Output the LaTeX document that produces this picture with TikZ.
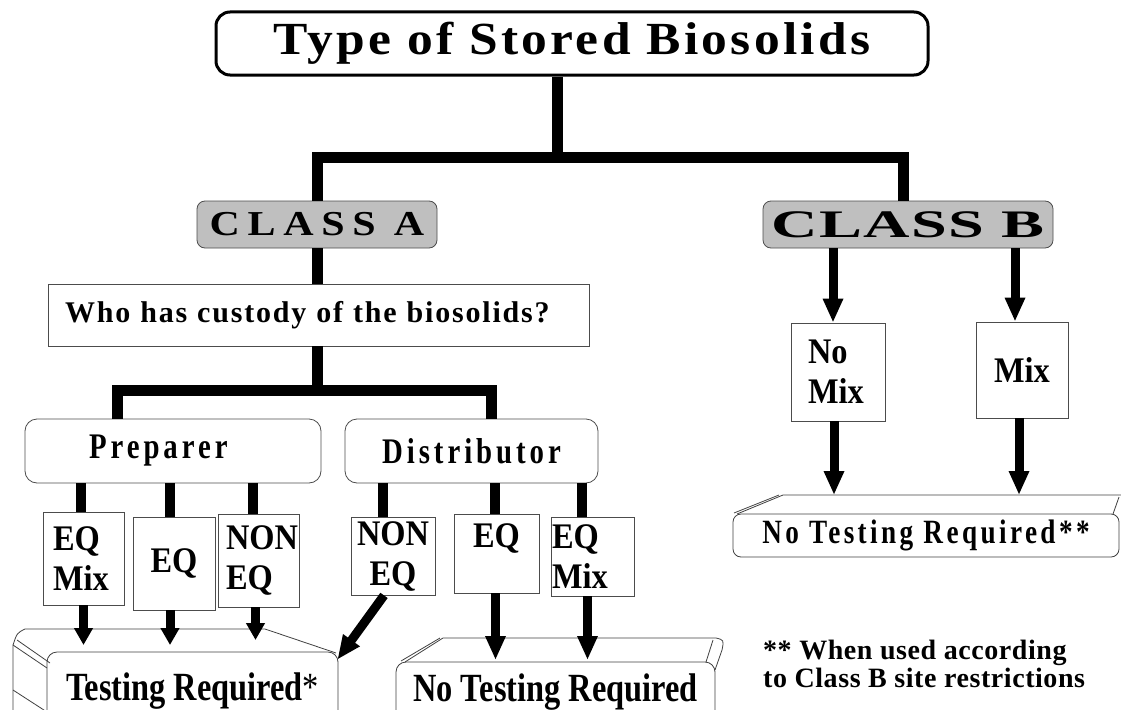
\documentclass[tikz,border=0pt]{standalone}
\usepackage{fontspec}
\setmainfont{Liberation Serif}
\usetikzlibrary{arrows.meta}

% fonts for the chart
\newcommand{\titlefont}{\bfseries\fontsize{46}{50}\selectfont\addfontfeatures{FakeStretch=1.12,LetterSpace=7}}
\newcommand{\classAfont}{\bfseries\fontsize{35}{40}\selectfont\addfontfeatures{FakeStretch=1.2,LetterSpace=22}}
\newcommand{\classBfont}{\bfseries\fontsize{39}{44}\selectfont\addfontfeatures{FakeStretch=1.65,LetterSpace=3}}
\newcommand{\askfont}{\bfseries\fontsize{30}{34}\selectfont\addfontfeatures{LetterSpace=6}}
\newcommand{\whofont}{\bfseries\fontsize{36}{40}\selectfont\addfontfeatures{FakeStretch=0.8,LetterSpace=11}}
\newcommand{\boxfont}{\bfseries\fontsize{36}{40}\selectfont\addfontfeatures{FakeStretch=0.9}}
\newcommand{\resultfont}{\bfseries\fontsize{40}{44}\selectfont\addfontfeatures{FakeStretch=0.81}}
\newcommand{\resultBfont}{\bfseries\fontsize{34}{38}\selectfont\addfontfeatures{FakeStretch=0.8,LetterSpace=10}}
\newcommand{\notefont}{\bfseries\fontsize{28}{28}\selectfont\addfontfeatures{LetterSpace=2}}

\tikzset{
  titlebox/.style={draw=black, line width=3pt, rounded corners=14pt, inner sep=0pt,
    minimum width=712pt, minimum height=63pt, font=\titlefont},
  classbox/.style={draw=black!70, line width=0.8pt, fill=black!25, rounded corners=8pt,
    inner sep=0pt, minimum height=47pt},
  askbox/.style={draw=black!70, line width=0.8pt, inner sep=0pt, font=\askfont},
  whobox/.style={draw=black!70, line width=0.8pt, rounded corners=12pt, inner sep=0pt,
    minimum height=64pt, font=\whofont},
  kindbox/.style={draw=black!70, line width=0.8pt, inner sep=0pt, font=\boxfont},
  slab/.style={draw=black!75, line width=0.8pt},
  slabface/.style={slab, fill=white, rounded corners=10pt, inner sep=0pt},
  bar/.style={line width=11pt},
  stub/.style={line width=10pt},
  arr/.style={line width=9pt, -{Triangle[length=24pt, width=19pt]}},
  arr short/.style={line width=9pt, -{Triangle[length=17pt, width=18pt]}},
}

\begin{document}
\begin{tikzpicture}[x=1pt,y=-1pt]
\useasboundingbox (0,0) rectangle (1121,709);
\clip (0,0) rectangle (1121,709);
% nodes
\node[titlebox] (type) at (572,43.5) {Type of Stored Biosolids};
\node[classbox, minimum width=240pt, font=\classAfont] (classA) at (317,224.5) {CLASS A};
\node[classbox, minimum width=290pt, font=\classBfont] (classB) at (908,224.5) {CLASS B};
\node[askbox, minimum width=541pt, minimum height=62pt, text width=507pt, align=left] (custody) at (318.5,315) {Who has custody of the biosolids?};
\node[whobox, minimum width=296pt, text width=168pt, align=left] (prep) at (173,451) {Preparer};
\node[whobox, minimum width=253pt] (dist) at (471.5,451) {Distributor};
    \node[kindbox, minimum width=81pt, minimum height=93pt, text width=61pt, align=left] (pEQmix) at (83.5,558.5) {EQ\\Mix};
    \node[kindbox, minimum width=82pt, minimum height=93pt] (pEQ) at (174,563.5) {EQ};
    \node[kindbox, minimum width=81pt, minimum height=93pt, text width=65pt, align=left] (pNonEQ) at (258.5,560.5) {NON\\EQ};
    \node[kindbox, minimum width=84pt, minimum height=78pt, align=center] (dNonEQ) at (393,556) {NON\\EQ};
    \node[kindbox, minimum width=85pt, minimum height=79pt, text depth=35pt] (dEQ) at (496.5,553.5) {EQ};
    \node[kindbox, minimum width=83pt, minimum height=79pt, text width=81pt, align=left] (dEQmix) at (592.5,556.5) {EQ\\Mix};
    \node[kindbox, minimum width=94pt, minimum height=98pt, text width=60pt, align=left] (bNoMix) at (838,372) {No\\Mix};
    \node[kindbox, minimum width=92pt, minimum height=96pt] (bMix) at (1022,370) {Mix};
% results
\node[slabface, minimum width=291pt, minimum height=78pt, font=\resultfont] (testreq) at (192.5,691) {Testing Required{\mdseries*}};
\node[slabface, minimum width=319pt, minimum height=60pt, font=\resultfont] (notest) at (555.5,692) {No Testing Required};
\node[slabface, rounded corners=8pt, minimum width=386pt, minimum height=43pt, font=\resultBfont] (notestB) at (926,535.5) {No Testing Required**};
\node[anchor=north west, inner sep=0pt, align=left, font=\notefont] (note) at (763,640) {** When used according\\to Class B site restrictions};
\coordinate (trtop) at (192,645);
\coordinate (nttop) at (555,660);
\coordinate (ntBtop) at (926,495);
% slab tops
\draw[slab] (13,720) -- (13,645) .. controls (17,633) .. (25,629) -- (265,629) -- (336,653);
\draw[slab] (13,645) -- (47,668);
\draw[slab] (17,640) -- (50,663);
\draw[slab] (13,690) -- (47,712);
\draw[slab] (405,662) -- (443,638) -- (716,638) .. controls (724,640) .. (722,650) -- (715,670);
\draw[slab] (401,661) -- (440,638);
\draw[slab] (706,662) -- (713,640);
\draw[slab] (737,514) -- (783,495) -- (1121,495);
\draw[slab] (734,513) -- (779,495);
\draw[slab] (1119,497) -- (1113,514);
% tree
\draw[bar] ([xshift=-15pt]type.south) -- ([xshift=-15pt]type.south |- 0,157);
\draw[bar] (classA.north) |- ([xshift=-5pt]classB.north |- 0,157) -- ([xshift=-5pt]classB.north);
\draw[bar] (classA.south) -- (classA.south |- custody.north);
\draw[bar] (classA.south |- custody.south) -- ++(0,44) coordinate (j2);
\draw[bar] ([xshift=-56pt]prep.north) |- (j2) -| ([xshift=19.5pt]dist.north);
\draw[stub] ([xshift=-3pt]pEQmix.north) -- ([xshift=-3pt]pEQmix.north |- prep.south);
\draw[stub] ([xshift=-4pt]pEQ.north) -- ([xshift=-4pt]pEQ.north |- prep.south);
\draw[stub] ([xshift=-6pt]pNonEQ.north) -- ([xshift=-6pt]pNonEQ.north |- prep.south);
\draw[stub] ([xshift=-10pt]dNonEQ.north) -- ([xshift=-10pt]dNonEQ.north |- dist.south);
\draw[stub] ([xshift=-2pt]dEQ.north) -- ([xshift=-2pt]dEQ.north |- dist.south);
\draw[stub] ([xshift=-11pt]dEQmix.north) -- ([xshift=-11pt]dEQmix.north |- dist.south);
% arrows
\draw[arr] ([xshift=-5pt]bNoMix.north |- classB.south) -- ([xshift=-5pt]bNoMix.north);
\draw[arr] ([xshift=-7pt]bMix.north |- classB.south) -- ([xshift=-7pt]bMix.north);
\draw[arr] ([xshift=-4pt]bNoMix.south) -- ([xshift=-4pt]bNoMix.south |- ntBtop);
\draw[arr] ([xshift=-3pt]bMix.south) -- ([xshift=-3pt]bMix.south |- ntBtop);
\draw[arr short] (pEQmix.south) -- (pEQmix.south |- trtop);
\draw[arr short] ([xshift=-4pt]pEQ.south) -- ([xshift=-4pt]pEQ.south |- trtop);
\draw[arr short] ([xshift=-3pt]pNonEQ.south) -- ([xshift=-3pt]pNonEQ.south |- 0,640);
\draw[arr] ([xshift=-9pt]dNonEQ.south) -- ([xshift=-1pt,yshift=-8pt]testreq.north east);
\draw[arr] ([xshift=-1pt]dEQ.south) -- ([xshift=-1pt]dEQ.south |- nttop);
\draw[arr] ([xshift=-5pt]dEQmix.south) -- ([xshift=-5pt]dEQmix.south |- nttop);
\end{tikzpicture}
\end{document}
